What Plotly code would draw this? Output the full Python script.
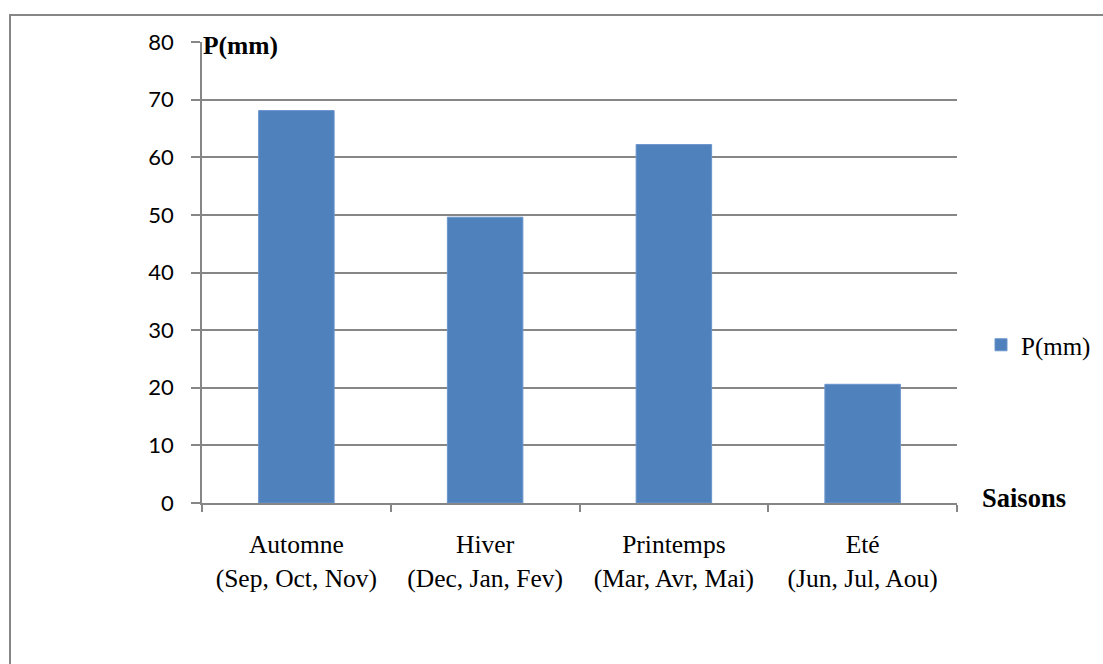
import plotly.graph_objects as go

# Seasonal precipitation
saisons = [
    "Automne<br>(Sep, Oct, Nov)",
    "Hiver<br>(Dec, Jan, Fev)",
    "Printemps<br>(Mar, Avr, Mai)",
    "Eté<br>(Jun, Jul, Aou)",
]
precip_mm = [68.1, 49.6, 62.2, 20.6]
y_ticks = [0, 10, 20, 30, 40, 50, 60, 70, 80]

W, H = 1103, 664
L, R, T, B = 202, 146, 42, 161
pw, ph = W - L - R, H - T - B

grey = "#868686"
serif = "Liberation Serif"

fig = go.Figure(
    go.Bar(
        x=saisons,
        y=precip_mm,
        name="P(mm)",
        marker=dict(color="#4F81BD", line=dict(color="#6a95cc", width=1)),
    )
)

fig.update_layout(
    width=W,
    height=H,
    margin=dict(l=L, r=R, t=T, b=B, autoexpand=False),
    paper_bgcolor="white",
    plot_bgcolor="white",
    bargap=0.6,
    showlegend=True,
    legend=dict(
        x=(981 - L) / pw,
        y=(502 - 344) / ph,
        xanchor="left",
        yanchor="middle",
        font=dict(family=serif, size=25, color="black"),
        bgcolor="rgba(0,0,0,0)",
        itemwidth=30,
    ),
    xaxis=dict(
        type="category",
        showline=True,
        linecolor=grey,
        linewidth=1.5,
        ticks="outside",
        tickson="boundaries",
        ticklen=7,
        tickcolor=grey,
        tickwidth=1.5,
        showgrid=False,
        tickfont=dict(family=serif, size=25.5, color="black"),
        ticklabelstandoff=18,
    ),
    yaxis=dict(
        range=[0, 80],
        tickvals=y_ticks,
        showline=True,
        linecolor=grey,
        linewidth=1.5,
        ticks="outside",
        ticklen=9,
        tickcolor=grey,
        tickwidth=1.5,
        showgrid=True,
        gridcolor=grey,
        gridwidth=1.5,
        zeroline=False,
        tickfont=dict(family="Lato", size=22, color="black"),
        ticklabelstandoff=13,
    ),
    annotations=[
        dict(
            text="<b>P(mm)</b>",
            xref="paper", yref="paper",
            x=(201 - L) / pw, y=(502 - 45) / ph,
            xanchor="left", yanchor="middle",
            showarrow=False,
            font=dict(family=serif, size=25.5, color="black"),
        ),
        dict(
            text="<b>Saisons</b>",
            xref="paper", yref="paper",
            x=(980 - L) / pw, y=(502 - 497) / ph,
            xanchor="left", yanchor="middle",
            showarrow=False,
            font=dict(family=serif, size=26.5, color="black"),
        ),
    ],
    shapes=[
        dict(
            type="rect",
            xref="paper", yref="paper",
            x0=(10 - L) / pw, x1=(W + 5 - L) / pw,
            y0=(502 - (H + 5)) / ph, y1=(502 - 14) / ph,
            line=dict(color=grey, width=2),
            fillcolor="rgba(0,0,0,0)",
            layer="below",
        )
    ],
)

fig.write_html("out.html")
